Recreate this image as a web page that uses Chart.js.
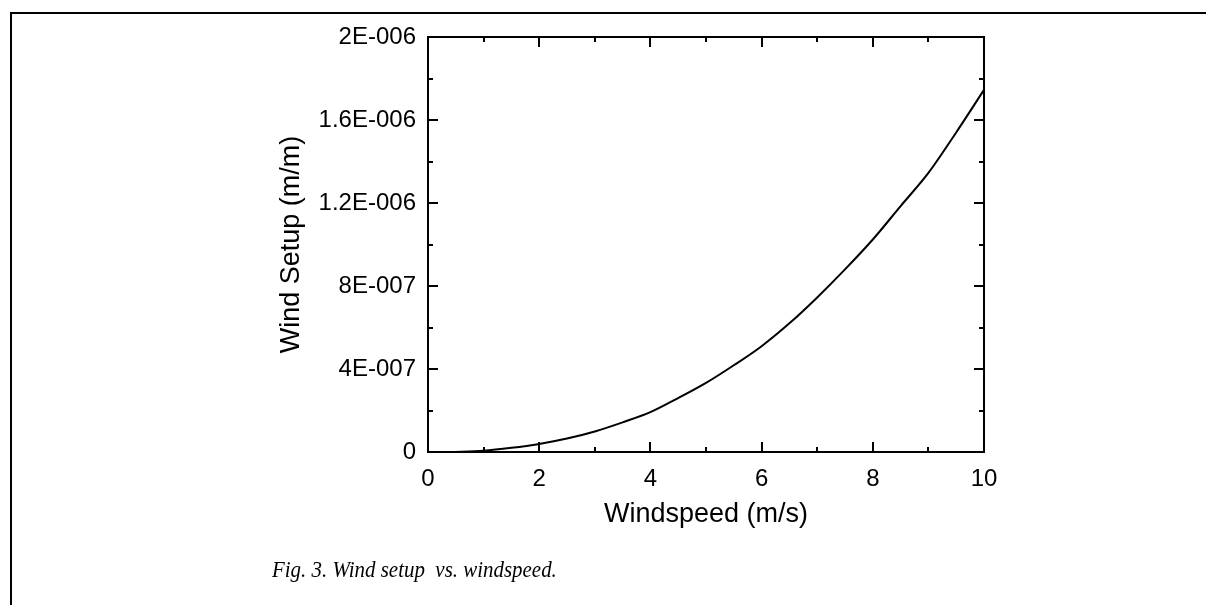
<!DOCTYPE html>
<html>
<head>
<meta charset="utf-8">
<script src="https://cdn.jsdelivr.net/npm/chart.js@4"></script>
<style>
    html, body { margin: 0; padding: 0; background: #fff; }
    body { width: 1206px; height: 605px; position: relative; overflow: hidden; }
    #moldura {
        position: absolute; left: 10px; top: 12px; right: -4px; bottom: -4px;
        border-top: 2px solid #000; border-left: 2px solid #000;
    }
    #grafico { position: absolute; left: 0; top: 0; }
    #legenda {
        position: absolute; left: 272px; top: 558px;
        font: italic 23px "Liberation Serif", serif; line-height: 23px;
        white-space: pre; color: #000;
        transform: scaleX(0.91); transform-origin: left top;
    }
</style>
</head>
<body>
<div id="moldura"></div>
<canvas id="grafico" width="1206" height="605"></canvas>
<div id="legenda">Fig. 3. Wind setup  vs. windspeed.</div>

<script>
const windspeed = [0.4, 1, 1.5, 2, 2.5, 3, 3.5, 4, 4.5, 5, 5.5, 6, 6.5, 7, 7.5, 8, 8.5, 9, 9.5, 10];
const windSetup = [
    0, 0.6e-8, 2.0e-8, 3.9e-8, 6.5e-8, 9.9e-8, 1.43e-7, 1.92e-7, 2.6e-7, 3.33e-7,
    4.18e-7, 5.1e-7, 6.2e-7, 7.45e-7, 8.8e-7, 1.024e-6, 1.185e-6, 1.345e-6, 1.54e-6, 1.745e-6,
];
const xTickLabels = ['0', '2', '4', '6', '8', '10'];
const yTickLabels = ['0', '4E-007', '8E-007', '1.2E-006', '1.6E-006', '2E-006'];

const canvasGrafico = document.getElementById('grafico');

// caixa do gráfico com marcas de escala para dentro, nos quatro lados
const caixaComMarcas = {
    id: 'caixaComMarcas',
    afterDraw(chart) {
        const { ctx, chartArea: area, scales: { x, y } } = chart;
        ctx.save();
        ctx.strokeStyle = '#000';
        ctx.lineWidth = 2;
        ctx.strokeRect(area.left, area.top, area.right - area.left, area.bottom - area.top);

        ctx.beginPath();
        for (let v = 0; v <= 10; v += 1) {
            const px = Math.round(x.getPixelForValue(v));
            const tam = v % 2 === 0 ? 10 : 5;
            ctx.moveTo(px, area.bottom); ctx.lineTo(px, area.bottom - tam);
            ctx.moveTo(px, area.top); ctx.lineTo(px, area.top + tam);
        }
        for (let i = 0; i <= 10; i++) {
            const py = Math.round(y.getPixelForValue(i * 2e-7));
            const tam = i % 2 === 0 ? 10 : 5;
            ctx.moveTo(area.left, py); ctx.lineTo(area.left + tam, py);
            ctx.moveTo(area.right, py); ctx.lineTo(area.right - tam, py);
        }
        ctx.stroke();
        ctx.restore();
    },
};

const fonteMarcas = { family: '"Liberation Sans", Arial, sans-serif', size: 24 };
const fonteTitulo = { family: '"Liberation Sans", Arial, sans-serif', size: 27 };

new Chart(canvasGrafico, {
    type: 'line',
    data: {
        labels: windspeed,
        datasets: [{
            data: windspeed.map((v, i) => ({ x: v, y: windSetup[i] })),
            borderColor: '#000',
            borderWidth: 2,
            pointRadius: 0,
            fill: false,
            cubicInterpolationMode: 'monotone',
        }],
    },
    options: {
        responsive: false,
        animation: false,
        devicePixelRatio: 1,
        layout: { padding: { left: 270, top: 37, right: 222, bottom: 70 } },
        plugins: { legend: { display: false }, tooltip: { enabled: false } },
        scales: {
            x: {
                type: 'linear',
                min: 0,
                max: 10,
                grid: { display: false, drawTicks: false },
                border: { display: false },
                ticks: {
                    stepSize: 2,
                    padding: 13,
                    color: '#000',
                    font: fonteMarcas,
                    maxRotation: 0,
                    callback: (valor, indice) => xTickLabels[indice],
                },
                title: {
                    display: true,
                    text: 'Windspeed (m/s)',
                    color: '#000',
                    font: fonteTitulo,
                    padding: { top: 0, bottom: 4 },
                },
                afterFit: (escala) => { escala.height = 83; },
            },
            y: {
                type: 'linear',
                min: 0,
                max: 2e-6,
                grid: { display: false, drawTicks: false },
                border: { display: false },
                ticks: {
                    stepSize: 4e-7,
                    padding: 12,
                    color: '#000',
                    font: fonteMarcas,
                    callback: (valor, indice) => yTickLabels[indice],
                },
                title: {
                    display: true,
                    text: 'Wind Setup (m/m)',
                    color: '#000',
                    font: fonteTitulo,
                    padding: { top: 5, bottom: 0 },
                },
                afterFit: (escala) => { escala.width = 158; },
            },
        },
    },
    plugins: [caixaComMarcas],
});
</script>
</body>
</html>
